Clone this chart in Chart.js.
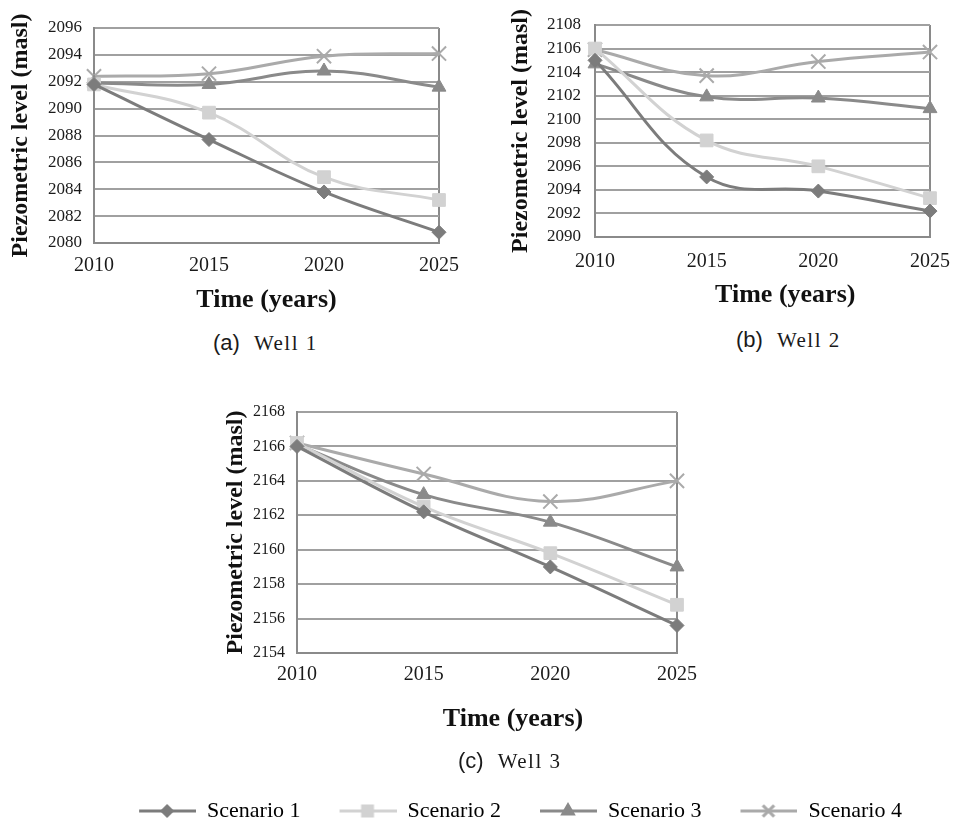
<!DOCTYPE html>
<html>
<head>
<meta charset="utf-8">
<script src="https://cdn.jsdelivr.net/npm/chart.js@4.4.0/dist/chart.umd.min.js"></script>
<style>
  body { margin: 0; background: #fff; width: 963px; height: 832px; overflow: hidden; position: relative; }
  canvas { position: absolute; }
  .cap { position: absolute; font-family: 'Liberation Serif', serif; font-size: 21px; color: #1a1a1a; letter-spacing: 1.5px; white-space: nowrap; line-height: 24px; }
  .cap span { font-family: 'Liberation Sans', Arial, sans-serif; font-size: 22px; letter-spacing: 0; margin-right: 14px; }
</style>
</head>
<body>
<canvas id="wellA" width="470" height="320" style="left:0;top:0"></canvas>
<canvas id="wellB" width="483" height="320" style="left:480px;top:0"></canvas>
<canvas id="wellC" width="1000" height="462" style="left:4px;top:370px"></canvas>
<div class="cap" style="left:213px;top:331px"><span>(a)</span>Well 1</div>
<div class="cap" style="left:736px;top:328px"><span>(b)</span>Well 2</div>
<div class="cap" style="left:458px;top:749px"><span>(c)</span>Well 3</div>
<script>
// years on the x axis
const years = ['2010', '2015', '2020', '2025'];
const scenarioNames = ['Scenario 1', 'Scenario 2', 'Scenario 3', 'Scenario 4'];

// Well 1 piezometric level (masl)
const well1S1 = [2091.8, 2087.7, 2083.8, 2080.8];
const well1S2 = [2091.8, 2089.7, 2084.9, 2083.2];
const well1S3 = [2091.9, 2091.8, 2092.8, 2091.6];
const well1S4 = [2092.4, 2092.6, 2093.9, 2094.1];

// Well 2
const well2S1 = [2105.0, 2095.1, 2093.9, 2092.2];
const well2S2 = [2106.0, 2098.2, 2096.0, 2093.3];
const well2S3 = [2104.7, 2101.9, 2101.8, 2100.9];
const well2S4 = [2105.9, 2103.7, 2104.9, 2105.7];

// Well 3
const well3S1 = [2166.0, 2162.2, 2159.0, 2155.6];
const well3S2 = [2166.2, 2162.5, 2159.8, 2156.8];
const well3S3 = [2166.1, 2163.2, 2161.6, 2159.0];
const well3S4 = [2166.2, 2164.4, 2162.8, 2164.0];

const colors = ['#7c7c7c', '#d2d2d2', '#8a8a8a', '#aaaaaa'];
const markers = ['rectRot', 'rect', 'triangle', 'crossRot'];
const markerSize = [7, 9, 8, 10];

const serif = "'Liberation Serif', 'Times New Roman', serif";

function makeSets(s1, s2, s3, s4) {
  return [s1, s2, s3, s4].map((d, i) => ({
    label: scenarioNames[i],
    data: d,
    borderColor: colors[i],
    backgroundColor: colors[i],
    pointBackgroundColor: colors[i],
    pointBorderColor: colors[i],
    borderWidth: 3,
    pointStyle: markers[i],
    pointRadius: markerSize[i],
    pointBorderWidth: i === 3 ? 2 : 1,
    tension: 0.4,
    clip: false
  }));
}

// legend glyph: short line with the marker in the middle (left part left blank as spacing)
function legendGlyph(i) {
  const c = document.createElement('canvas');
  c.width = 90; c.height = 20;
  const g = c.getContext('2d');
  g.strokeStyle = colors[i];
  g.lineWidth = 3;
  g.beginPath(); g.moveTo(33, 10); g.lineTo(90, 10); g.stroke();
  g.fillStyle = colors[i];
  Chart.helpers.drawPoint(g, {
    pointStyle: markers[i], radius: markerSize[i] - 2, borderWidth: i === 3 ? 2 : 1, rotation: 0
  }, 61, 10);
  return c;
}

function panel(id, sets, cfg) {
  return new Chart(document.getElementById(id), {
    type: 'line',
    data: { labels: years, datasets: sets },
    options: {
      responsive: false,
      animation: false,
      layout: { padding: cfg.padding },
      plugins: {
        legend: cfg.legend || { display: false },
        tooltip: { enabled: false }
      },
      scales: Object.assign({
        x: {
          offset: false,
          afterFit: s => { s.height = cfg.xHeight; },
          grid: {
            drawTicks: false,
            lineWidth: 2,
            color: ctx => ctx.index === 3 ? '#8a8a8a' : 'rgba(0,0,0,0)'
          },
          border: { color: '#8a8a8a', width: 2 },
          ticks: { color: '#1a1a1a', padding: cfg.xTickPad, font: { family: serif, size: 20 } },
          title: {
            display: true, text: cfg.xTitle, color: '#111',
            font: { family: serif, size: 26, weight: 'bold' },
            padding: { top: 0, bottom: cfg.xTitlePad }
          }
        },
        y: {
          min: cfg.min, max: cfg.max,
          afterFit: s => { s.width = cfg.yWidth; },
          grid: { drawTicks: false, lineWidth: 2, color: '#a0a0a0' },
          border: { color: '#8a8a8a', width: 2 },
          ticks: {
            stepSize: 2, color: '#1a1a1a', padding: cfg.yTickPad,
            font: { family: serif, size: cfg.yTickSize },
            callback: v => String(v)
          },
          title: {
            display: true, text: 'Piezometric level (masl)', color: '#111',
            font: { family: serif, size: 24, weight: 'bold' },
            padding: { top: cfg.yTitlePad, bottom: 0 }
          }
        }
      }, cfg.extraScales || {})
    }
  });
}

panel('wellA', makeSets(well1S1, well1S2, well1S3, well1S4), {
  min: 2080, max: 2096, padding: { top: 28, right: 29, left: 0, bottom: 0 },
  xTitle: 'Time (years)',
  yWidth: 94, xHeight: 77, xTickPad: 11, xTitlePad: 4, yTickPad: 12, yTitlePad: 6, yTickSize: 17
});

panel('wellB', makeSets(well2S1, well2S2, well2S3, well2S4), {
  min: 2090, max: 2108, padding: { top: 25, right: 20, left: 0, bottom: 0 },
  xTitle: '\u00a0\u00a0\u00a0\u00a0\u00a0\u00a0\u00a0Time (years)',
  yWidth: 115, xHeight: 83, xTickPad: 13, xTitlePad: 9, yTickPad: 14, yTitlePad: 26, yTickSize: 17
});

panel('wellC', makeSets(well3S1, well3S2, well3S3, well3S4), {
  min: 2154, max: 2168, padding: { top: 42, right: 0, left: 0, bottom: 0 },
  xTitle: '\u00a0\u00a0\u00a0\u00a0\u00a0\u00a0\u00a0\u00a0Time (years)',
  yWidth: 293, xHeight: 141, xTickPad: 10, xTitlePad: 59, yTickPad: 12, yTitlePad: 217, yTickSize: 16,
  legend: {
    display: true,
    position: 'bottom',
    labels: {
      usePointStyle: true,
      pointStyleWidth: 90,
      padding: 6,
      color: '#1a1a1a',
      font: { family: serif, size: 22 },
      generateLabels: chart => chart.data.datasets.map((d, i) => ({
        text: d.label,
        pointStyle: legendGlyph(i),
        fillStyle: colors[i],
        strokeStyle: colors[i],
        lineWidth: 0,
        datasetIndex: i,
        hidden: false
      }))
    }
  },
  extraScales: {
    // blank axis to keep the plot narrow on the right like the original
    yRight: {
      position: 'right', display: true,
      grid: { display: false }, border: { display: false },
      ticks: { display: false },
      afterFit: s => { s.width = 327; }
    }
  }
});
</script>
</body>
</html>
